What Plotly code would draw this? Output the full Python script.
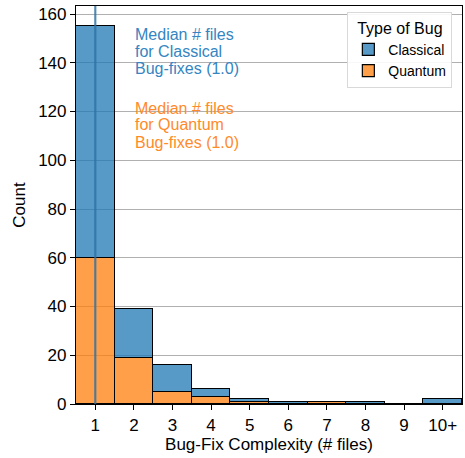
import plotly.graph_objects as go

bins = [1, 2, 3, 4, 5, 6, 7, 8, 9, 10]
tick_labels = ["1", "2", "3", "4", "5", "6", "7", "8", "9", "10+"]
quantum = [60, 19, 5, 3, 1, 0, 1, 0, 0, 0]
classical = [95, 20, 11, 3, 1, 1, 0, 1, 0, 2]
median_classical = 1.0
median_quantum = 1.0

classical_lines = ["Median # files", "for Classical", f"Bug-fixes ({median_classical})"]
quantum_lines = ["Median # files", "for Quantum", f"Bug-fixes ({median_quantum})"]
classical_line_y = [151.8, 144.8, 137.8]
quantum_line_y = [121.4, 114.5, 107.5]

FONT = "Liberation Sans, Arial, sans-serif"
blue_fill = "rgba(31,119,180,0.75)"
orange_fill = "rgba(255,127,14,0.75)"

fig = go.Figure()
fig.add_trace(go.Bar(x=bins, y=quantum, name="Quantum", width=1,
                     marker=dict(color=orange_fill, line=dict(color="black", width=1.2)),
                     legendrank=2))
fig.add_trace(go.Bar(x=bins, y=classical, name="Classical", width=1,
                     marker=dict(color=blue_fill, line=dict(color="black", width=1.2)),
                     legendrank=1))

fig.add_vline(x=median_classical, line=dict(color="rgba(31,119,180,0.75)", width=2))
fig.add_vline(x=median_quantum, line=dict(color="rgba(70,110,140,0.35)", width=2))

for txt, yy in zip(classical_lines, classical_line_y):
    fig.add_annotation(x=1.97, y=yy, xref="x", yref="y", xanchor="left", yanchor="middle",
                       text=txt, showarrow=False, align="left",
                       font=dict(family=FONT, size=16, color="#3485c2"))
for txt, yy in zip(quantum_lines, quantum_line_y):
    fig.add_annotation(x=1.97, y=yy, xref="x", yref="y", xanchor="left", yanchor="middle",
                       text=txt, showarrow=False, align="left",
                       font=dict(family=FONT, size=16, color="#ff8a2a"))

fig.update_layout(
    width=465, height=458,
    margin=dict(l=76, r=3, t=6, b=54),
    barmode="stack", bargap=0,
    plot_bgcolor="white", paper_bgcolor="white",
    font=dict(family=FONT, size=17, color="black"),
    legend=dict(
        title=dict(text="Type of Bug", side="top center", font=dict(size=16)),
        x=0.975, y=0.985, xanchor="right", yanchor="top",
        bgcolor="rgba(255,255,255,0.9)", bordercolor="#d9d9d9", borderwidth=1,
        font=dict(size=14), traceorder="normal",
    ),
    showlegend=True,
)
fig.update_xaxes(
    range=[0.5, 10.5], tickvals=bins, ticktext=tick_labels, automargin=False,
    showline=True, linecolor="black", linewidth=1.2, mirror=True,
    ticks="outside", ticklen=5, tickcolor="black", showgrid=False,
    title=dict(text="Bug-Fix Complexity (# files)", font=dict(size=17), standoff=4),
    tickfont=dict(size=17),
)
fig.update_yaxes(
    range=[0, 163.3], tickvals=list(range(0, 161, 20)), automargin=False,
    showline=True, linecolor="black", linewidth=1.2, mirror=True,
    ticks="outside", ticklen=5, tickcolor="black",
    showgrid=True, gridcolor="#b0b0b0", gridwidth=1, zeroline=False,
    title=dict(text="Count", font=dict(size=17), standoff=8),
    tickfont=dict(size=17),
)

fig.write_html("out.html", config={"displayModeBar": False},
               post_script="document.body.style.margin='0';")
